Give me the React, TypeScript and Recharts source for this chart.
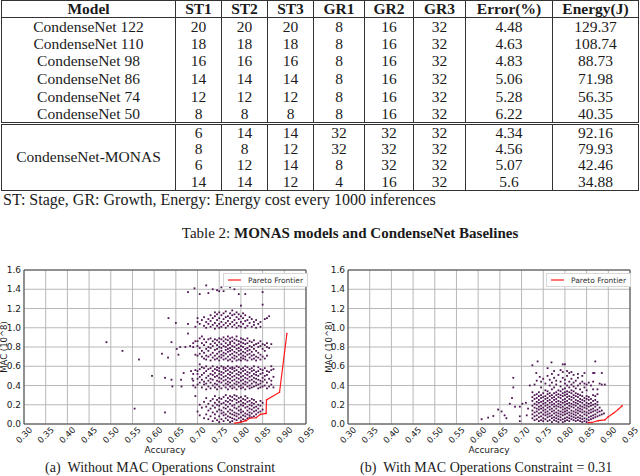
import React from 'react';
import { ScatterChart, Scatter, XAxis, YAxis, CartesianGrid, ReferenceArea, Legend, Label } from 'recharts';

// table 2
const headers = ['Model', 'ST1', 'ST2', 'ST3', 'GR1', 'GR2', 'GR3', 'Error(%)', 'Energy(J)'];
const baselineRows: (string | number)[][] = [
  ['CondenseNet 122', 20, 20, 20, 8, 16, 32, '4.48', '129.37'],
  ['CondenseNet 110', 18, 18, 18, 8, 16, 32, '4.63', '108.74'],
  ['CondenseNet 98', 16, 16, 16, 8, 16, 32, '4.83', '88.73'],
  ['CondenseNet 86', 14, 14, 14, 8, 16, 32, '5.06', '71.98'],
  ['CondenseNet 74', 12, 12, 12, 8, 16, 32, '5.28', '56.35'],
  ['CondenseNet 50', 8, 8, 8, 8, 16, 32, '6.22', '40.35'],
];
const monasRows: (string | number)[][] = [
  [6, 14, 14, 32, 32, 32, '4.34', '92.16'],
  [8, 8, 12, 32, 32, 32, '4.56', '79.93'],
  [6, 12, 14, 8, 32, 32, '5.07', '42.46'],
  [14, 14, 12, 4, 16, 32, '5.6', '34.88'],
];
const colWidths = [174, 46, 46, 46, 51, 49, 52, 87, 86];

// scatter axes
const accuracyTicks = [0.3, 0.35, 0.4, 0.45, 0.5, 0.55, 0.6, 0.65, 0.7, 0.75, 0.8, 0.85, 0.9, 0.95];
const macTicks = [0, 0.2, 0.4, 0.6, 0.8, 1.0, 1.2, 1.4, 1.6];

// (a) without constraint: [accuracy, MAC values at that accuracy]
const colsA: [number, number[]][] = [
  [0.69, [0.45, 0.4, 0.52, 0.84, 0.8]],
  [0.695, [0.38, 0.29, 0.56, 0.72, 0.86, 1.01]],
  [0.7, [0.13, 0.47, 0.52, 0.55, 0.41, 0.71, 0.81, 0.86, 1.06, 1.1]],
  [0.705, [0.09, 0.2, 0.43, 0.49, 0.57, 0.62, 0.73, 0.79, 0.89, 1.04, 1.35]],
  [0.71, [0.17, 0.38, 0.46, 0.51, 0.59, 0.7, 0.76, 0.84, 0.91, 1.08]],
  [0.715, [0.06, 0.23, 0.41, 0.44, 0.53, 0.58, 0.68, 0.74, 0.82, 0.88, 1.02, 1.11]],
  [0.72, [0.1, 0.18, 0.27, 0.36, 0.42, 0.48, 0.55, 0.6, 0.67, 0.71, 0.78, 0.85, 1.0, 1.06, 1.44]],
  [0.725, [0.05, 0.14, 0.21, 0.39, 0.45, 0.5, 0.57, 0.7, 0.76, 0.8, 0.88, 1.04, 1.09, 1.36]],
  [0.73, [0.08, 0.16, 0.24, 0.37, 0.43, 0.47, 0.52, 0.58, 0.66, 0.72, 0.79, 0.83, 0.89, 1.01, 1.07, 1.13]],
  [0.735, [0.03, 0.12, 0.19, 0.26, 0.4, 0.46, 0.51, 0.55, 0.6, 0.69, 0.74, 0.81, 0.86, 1.03, 1.1, 1.4]],
  [0.74, [0.06, 0.1, 0.17, 0.22, 0.29, 0.38, 0.42, 0.49, 0.53, 0.57, 0.67, 0.71, 0.77, 0.84, 0.88, 0.99, 1.05, 1.12, 1.16]],
  [0.745, [0.04, 0.13, 0.2, 0.25, 0.36, 0.41, 0.45, 0.5, 0.56, 0.59, 0.68, 0.73, 0.78, 0.82, 0.87, 1.02, 1.08, 1.14, 1.39]],
  [0.75, [0.02, 0.08, 0.15, 0.19, 0.23, 0.27, 0.39, 0.44, 0.48, 0.52, 0.55, 0.58, 0.66, 0.7, 0.75, 0.8, 0.85, 0.89, 1.0, 1.04, 1.1, 1.16, 1.38]],
  [0.755, [0.05, 0.11, 0.14, 0.21, 0.26, 0.37, 0.43, 0.47, 0.51, 0.54, 0.6, 0.69, 0.72, 0.76, 0.79, 0.83, 0.88, 1.01, 1.06, 1.13, 1.42]],
  [0.76, [0.03, 0.09, 0.12, 0.17, 0.22, 0.28, 0.4, 0.45, 0.49, 0.53, 0.57, 0.59, 0.67, 0.71, 0.74, 0.81, 0.86, 0.9, 1.03, 1.09, 1.15, 1.38]],
  [0.765, [0.06, 0.1, 0.16, 0.2, 0.24, 0.3, 0.38, 0.42, 0.46, 0.5, 0.55, 0.58, 0.68, 0.73, 0.77, 0.8, 0.84, 0.88, 1.0, 1.05, 1.11, 1.17]],
  [0.77, [0.04, 0.08, 0.13, 0.18, 0.23, 0.27, 0.36, 0.41, 0.44, 0.48, 0.52, 0.56, 0.6, 0.66, 0.7, 0.75, 0.78, 0.82, 0.87, 0.91, 1.02, 1.07, 1.12]],
  [0.775, [0.02, 0.07, 0.11, 0.15, 0.21, 0.25, 0.29, 0.39, 0.43, 0.47, 0.51, 0.54, 0.58, 0.67, 0.72, 0.76, 0.79, 0.83, 0.85, 0.89, 1.04, 1.1, 1.15, 1.42]],
  [0.78, [0.03, 0.06, 0.1, 0.14, 0.19, 0.24, 0.28, 0.37, 0.4, 0.45, 0.49, 0.53, 0.57, 0.59, 0.65, 0.69, 0.73, 0.77, 0.81, 0.86, 0.9, 1.01, 1.06, 1.13, 1.18]],
  [0.785, [0.05, 0.09, 0.12, 0.17, 0.2, 0.26, 0.3, 0.38, 0.42, 0.46, 0.5, 0.55, 0.58, 0.68, 0.71, 0.75, 0.8, 0.84, 0.88, 1.03, 1.08, 1.14, 1.4]],
  [0.79, [0.04, 0.08, 0.11, 0.16, 0.22, 0.25, 0.29, 0.36, 0.41, 0.44, 0.48, 0.52, 0.56, 0.6, 0.66, 0.7, 0.74, 0.78, 0.82, 0.87, 0.91, 1.0, 1.05, 1.11, 1.16]],
  [0.795, [0.06, 0.1, 0.14, 0.18, 0.23, 0.27, 0.39, 0.43, 0.47, 0.51, 0.54, 0.59, 0.67, 0.72, 0.76, 0.79, 0.83, 0.86, 1.02, 1.09, 1.14, 1.35]],
  [0.8, [0.03, 0.07, 0.12, 0.15, 0.2, 0.24, 0.28, 0.37, 0.4, 0.45, 0.49, 0.53, 0.57, 0.66, 0.69, 0.73, 0.77, 0.81, 0.85, 0.89, 1.01, 1.06, 1.12, 1.23]],
  [0.805, [0.05, 0.09, 0.13, 0.19, 0.22, 0.26, 0.38, 0.42, 0.46, 0.5, 0.55, 0.58, 0.68, 0.71, 0.75, 0.8, 0.84, 0.88, 1.04, 1.1, 1.15]],
  [0.81, [0.04, 0.08, 0.11, 0.17, 0.21, 0.25, 0.29, 0.36, 0.41, 0.44, 0.48, 0.52, 0.56, 0.6, 0.67, 0.7, 0.74, 0.78, 0.83, 0.87, 1.0, 1.07, 1.13, 1.35]],
  [0.815, [0.06, 0.1, 0.14, 0.18, 0.23, 0.27, 0.39, 0.43, 0.47, 0.51, 0.54, 0.59, 0.66, 0.72, 0.76, 0.79, 0.84, 0.89, 1.02, 1.08]],
  [0.82, [0.07, 0.09, 0.12, 0.16, 0.2, 0.24, 0.37, 0.4, 0.45, 0.49, 0.53, 0.57, 0.69, 0.73, 0.77, 0.81, 0.86, 1.05, 1.11]],
  [0.825, [0.07, 0.11, 0.15, 0.19, 0.22, 0.26, 0.38, 0.42, 0.46, 0.5, 0.55, 0.58, 0.67, 0.71, 0.75, 0.8, 0.85, 1.01, 1.09]],
  [0.83, [0.08, 0.13, 0.17, 0.21, 0.25, 0.39, 0.44, 0.48, 0.52, 0.56, 0.6, 0.68, 0.72, 0.78, 0.82, 0.87, 1.03, 1.06]],
  [0.835, [0.1, 0.14, 0.18, 0.23, 0.4, 0.43, 0.47, 0.51, 0.54, 0.66, 0.7, 0.76, 0.83, 1.0, 1.08]],
  [0.84, [0.12, 0.16, 0.2, 0.37, 0.41, 0.46, 0.5, 0.55, 0.59, 0.69, 0.74, 0.8, 0.84, 1.04]],
  [0.845, [0.13, 0.19, 0.24, 0.38, 0.42, 0.45, 0.52, 0.57, 0.67, 0.72, 0.81, 0.86, 1.01, 1.06]],
  [0.85, [0.15, 0.22, 0.39, 0.44, 0.48, 0.53, 0.56, 0.7, 0.78, 0.83, 1.24, 1.37]],
  [0.855, [0.4, 0.46, 0.5, 0.58, 0.68, 0.76, 0.82, 1.09]],
  [0.86, [0.37, 0.43, 0.51, 0.55, 0.71, 0.8, 0.84, 1.1]],
  [0.865, [0.39, 0.47, 0.54, 0.79, 1.12]],
  [0.87, [0.41, 0.45, 0.56, 0.6, 0.83]],
  [0.875, [0.38, 0.49, 0.57]],
];
const strayA: [number, number][] = [
  [0.49, 0.85], [0.527, 0.76], [0.565, 0.67], [0.595, 0.5], [0.555, 0.16], [0.625, 0.12],
  [0.618, 0.73], [0.625, 0.48], [0.632, 0.69], [0.64, 0.85], [0.64, 0.46], [0.642, 0.39],
  [0.633, 1.1], [0.65, 1.05], [0.652, 0.78], [0.66, 0.8], [0.656, 0.72], [0.662, 0.46],
  [0.663, 0.39], [0.668, 0.53], [0.672, 0.8], [0.678, 0.94], [0.678, 1.04], [0.683, 0.81],
  [0.678, 1.37], [0.693, 1.41], [0.685, 0.55], [0.688, 0.47],
];
const paretoA: [number, number][] = [
  [0.786, 0.01], [0.8, 0.02], [0.812, 0.035], [0.82, 0.06], [0.835, 0.065], [0.845, 0.1],
  [0.858, 0.11], [0.859, 0.25], [0.889, 0.33], [0.906, 0.94],
];

// (b) with MAC constraint = 0.31
const colsB: [number, number[]][] = [
  [0.725, [0.06, 0.1, 0.14, 0.19, 0.24, 0.28, 0.33]],
  [0.73, [0.04, 0.08, 0.12, 0.17, 0.21, 0.26, 0.3, 0.41]],
  [0.735, [0.05, 0.09, 0.13, 0.16, 0.2, 0.23, 0.27, 0.31, 0.45]],
  [0.74, [0.03, 0.07, 0.11, 0.15, 0.18, 0.22, 0.25, 0.29, 0.33]],
  [0.745, [0.04, 0.08, 0.12, 0.16, 0.19, 0.23, 0.27, 0.3, 0.38, 0.44]],
  [0.75, [0.03, 0.06, 0.1, 0.14, 0.17, 0.21, 0.24, 0.28, 0.32, 0.47]],
  [0.755, [0.05, 0.09, 0.12, 0.15, 0.19, 0.22, 0.26, 0.29, 0.35, 0.42]],
  [0.76, [0.03, 0.07, 0.1, 0.13, 0.17, 0.2, 0.24, 0.27, 0.31, 0.34, 0.5, 0.58]],
  [0.765, [0.04, 0.08, 0.11, 0.15, 0.18, 0.22, 0.25, 0.29, 0.32, 0.4, 0.46]],
  [0.77, [0.02, 0.06, 0.09, 0.13, 0.16, 0.2, 0.23, 0.27, 0.3, 0.36, 0.43, 0.52]],
  [0.775, [0.04, 0.07, 0.11, 0.14, 0.18, 0.21, 0.25, 0.28, 0.32, 0.38, 0.48, 0.55]],
  [0.78, [0.03, 0.06, 0.09, 0.12, 0.16, 0.19, 0.23, 0.26, 0.3, 0.33, 0.41, 0.45]],
  [0.785, [0.02, 0.05, 0.08, 0.11, 0.14, 0.18, 0.21, 0.24, 0.28, 0.31, 0.35, 0.51]],
  [0.79, [0.04, 0.07, 0.1, 0.13, 0.17, 0.2, 0.23, 0.27, 0.3, 0.34, 0.39, 0.44, 0.56]],
  [0.795, [0.02, 0.05, 0.09, 0.12, 0.15, 0.18, 0.22, 0.25, 0.29, 0.32, 0.36, 0.48, 0.54, 0.62]],
  [0.8, [0.03, 0.06, 0.1, 0.13, 0.16, 0.2, 0.23, 0.26, 0.3, 0.33, 0.37, 0.42, 0.46]],
  [0.805, [0.04, 0.07, 0.11, 0.14, 0.17, 0.21, 0.24, 0.28, 0.31, 0.34, 0.4, 0.5, 0.55]],
  [0.81, [0.03, 0.06, 0.09, 0.12, 0.16, 0.19, 0.22, 0.26, 0.29, 0.33, 0.38, 0.44, 0.53]],
  [0.815, [0.05, 0.08, 0.11, 0.14, 0.18, 0.21, 0.25, 0.28, 0.32, 0.35, 0.41, 0.47, 0.54]],
  [0.82, [0.04, 0.07, 0.1, 0.13, 0.17, 0.2, 0.23, 0.27, 0.3, 0.34, 0.39, 0.43, 0.51]],
  [0.825, [0.03, 0.06, 0.09, 0.12, 0.15, 0.19, 0.22, 0.25, 0.29, 0.32, 0.37, 0.45]],
  [0.83, [0.04, 0.07, 0.11, 0.14, 0.17, 0.21, 0.24, 0.28, 0.31, 0.4, 0.48, 0.52]],
  [0.835, [0.03, 0.06, 0.09, 0.13, 0.16, 0.19, 0.23, 0.26, 0.3, 0.36, 0.42]],
  [0.84, [0.02, 0.05, 0.08, 0.12, 0.15, 0.18, 0.22, 0.25, 0.29, 0.33, 0.44, 0.5]],
  [0.845, [0.03, 0.06, 0.1, 0.13, 0.17, 0.2, 0.24, 0.27, 0.38, 0.42, 0.53]],
  [0.85, [0.02, 0.05, 0.09, 0.12, 0.16, 0.19, 0.22, 0.26, 0.29, 0.35, 0.41]],
  [0.855, [0.04, 0.07, 0.11, 0.14, 0.18, 0.21, 0.25, 0.28, 0.43]],
  [0.86, [0.05, 0.08, 0.12, 0.15, 0.19, 0.22, 0.26, 0.4]],
  [0.865, [0.06, 0.09, 0.13, 0.16, 0.2, 0.24, 0.3, 0.36, 0.44, 0.53]],
  [0.87, [0.07, 0.1, 0.14, 0.18, 0.21, 0.25, 0.29, 0.65]],
  [0.875, [0.08, 0.12, 0.15, 0.2, 0.23, 0.31, 0.36]],
  [0.88, [0.09, 0.13, 0.17, 0.42]],
  [0.885, [0.1, 0.14, 0.41]],
  [0.89, [0.11]],
];
const strayB: [number, number][] = [
  [0.608, 0.05], [0.623, 0.066], [0.635, 0.083], [0.646, 0.15], [0.654, 0.13], [0.661, 0.09],
  [0.665, 0.06], [0.673, 0.21], [0.678, 0.27], [0.681, 0.38], [0.681, 0.48], [0.685, 0.18],
  [0.696, 0.18], [0.696, 0.08], [0.696, 0.03], [0.702, 0.21], [0.712, 0.09], [0.719, 0.4],
  [0.725, 0.61], [0.737, 0.65], [0.734, 0.53], [0.742, 0.49], [0.769, 0.64], [0.8, 0.62],
  [0.868, 0.53], [0.885, 0.53], [0.892, 0.41], [0.71, 0.22], [0.715, 0.16],
];
const paretoB: [number, number][] = [
  [0.854, 0.014], [0.862, 0.016], [0.877, 0.035], [0.892, 0.042], [0.9, 0.076],
  [0.912, 0.111], [0.923, 0.152], [0.932, 0.19],
];

const toPoints = (cols: [number, number[]][], stray: [number, number][]) => [
  ...cols.flatMap(([acc, macs]) => macs.map((mac) => ({ acc, mac }))),
  ...stray.map(([acc, mac]) => ({ acc, mac })),
];
const toLine = (pts: [number, number][]) => pts.map(([acc, mac]) => ({ acc, mac }));

const serif = '"Liberation Serif", "Times New Roman", serif';
const ink = '#1a1a1a';
const rule = '1px solid #333';

const PointMark = (p: any) => <rect x={p.cx - 0.9} y={p.cy - 0.9} width={1.8} height={1.8} fill="#4e1553" />;
const ParetoMark = (p: any) => <circle cx={p.cx} cy={p.cy} r={0.8} fill="#ff1a1a" />;

const AccTick = ({ x, y, payload }: any) => (
  <text
    x={x}
    y={y + 9}
    transform={`rotate(-45 ${x} ${y + 9})`}
    textAnchor="middle"
    dominantBaseline="central"
    fontSize={8.5}
    fill={ink}
  >
    {payload.value.toFixed(2)}
  </text>
);

const ParetoLegend = () => (
  <div
    style={{
      display: 'flex',
      alignItems: 'center',
      height: 12,
      padding: '0 4px',
      border: '1px solid #d8d8d8',
      background: '#fff',
      fontSize: 7.5,
      color: '#333',
      whiteSpace: 'nowrap',
    }}
  >
    <svg width={13} height={4}>
      <line x1={0} y1={2} x2={13} y2={2} stroke="#ff1a1a" strokeWidth={1.2} />
    </svg>
    <span style={{ marginLeft: 7 }}>Pareto Frontier</span>
  </div>
);

const MacChart = ({ points, pareto, yAxisWidth, rightMargin, titleX, legendLeft }: any) => (
  <ScatterChart width={320} height={226} margin={{ top: 20, right: rightMargin, bottom: 0, left: 0 }}>
    <CartesianGrid stroke="#b8b8b8" strokeWidth={1} />
    <XAxis
      type="number"
      dataKey="acc"
      domain={[0.3, 0.95]}
      ticks={accuracyTicks}
      interval={0}
      allowDataOverflow
      axisLine={false}
      tickLine={false}
      tickSize={0}
      tick={<AccTick />}
      height={52}
      label={
        <Label
          content={({ viewBox }: any) => (
            <text x={viewBox.x + viewBox.width / 2} y={viewBox.y + 29} textAnchor="middle" fontSize={9} fill={ink}>
              Accuracy
            </text>
          )}
        />
      }
    />
    <YAxis
      type="number"
      dataKey="mac"
      domain={[0, 1.6]}
      ticks={macTicks}
      interval={0}
      allowDataOverflow
      axisLine={false}
      tickLine={false}
      tickSize={0}
      tickMargin={3}
      width={yAxisWidth}
      tickFormatter={(v: number) => v.toFixed(1)}
      tick={{ fontSize: 9, fill: ink }}
      label={
        <Label
          content={({ viewBox }: any) => {
            const cy = viewBox.y + viewBox.height / 2;
            return (
              <text
                x={titleX}
                y={cy}
                transform={`rotate(-90 ${titleX} ${cy})`}
                textAnchor="middle"
                dominantBaseline="central"
                fontSize={8.5}
                fill={ink}
              >
                MAC (10^8)
              </text>
            );
          }}
        />
      }
    />
    <ReferenceArea x1={0.3} x2={0.95} y1={0} y2={1.6} fill="none" stroke="#444" strokeWidth={1} />
    <Scatter data={points} shape={PointMark} isAnimationActive={false} />
    <Scatter
      data={pareto}
      shape={ParetoMark}
      line={{ stroke: '#ff1a1a', strokeWidth: 1.2 }}
      lineType="joint"
      isAnimationActive={false}
    />
    <Legend
      layout="horizontal"
      verticalAlign="middle"
      align="center"
      content={<ParetoLegend />}
      wrapperStyle={{ top: 23, left: legendLeft, width: 'auto' }}
    />
  </ScatterChart>
);

const td = (extra?: React.CSSProperties): React.CSSProperties => ({
  borderLeft: rule,
  borderRight: rule,
  padding: 0,
  textAlign: 'center',
  ...extra,
});

export default function App() {
  return (
    <div style={{ position: 'absolute', left: 0, top: 0, width: 640, height: 476, background: '#fff', color: ink, overflow: 'hidden' }}>
      <table
        style={{
          position: 'absolute',
          left: 1,
          top: 0,
          width: 637,
          borderCollapse: 'collapse',
          tableLayout: 'fixed',
          border: rule,
          fontFamily: serif,
          fontSize: 15.5,
          lineHeight: '16px',
        }}
      >
        <colgroup>
          {colWidths.map((w, i) => (
            <col key={i} style={{ width: w }} />
          ))}
        </colgroup>
        <tbody>
          <tr style={{ height: 16 }}>
            {headers.map((h) => (
              <th key={h} style={td({ borderBottom: rule, fontWeight: 'bold' })}>
                {h}
              </th>
            ))}
          </tr>
          {baselineRows.map((r, i) => (
            <tr key={i} style={{ height: 17.6 }}>
              {r.map((c, j) => (
                <td key={j} style={td()}>
                  {c}
                </td>
              ))}
            </tr>
          ))}
          {monasRows.map((r, i) => (
            <tr key={'m' + i} style={{ height: 16.6 }}>
              {i === 0 && (
                <td rowSpan={4} style={td({ borderTop: '3px double #333' })}>
                  CondenseNet-MONAS
                </td>
              )}
              {r.map((c, j) => (
                <td key={j} style={td(i === 0 ? { borderTop: '3px double #333' } : undefined)}>
                  {c}
                </td>
              ))}
            </tr>
          ))}
        </tbody>
      </table>

      <div style={{ position: 'absolute', left: 3, top: 191, fontFamily: serif, fontSize: 16, lineHeight: '18px', whiteSpace: 'nowrap' }}>
        ST: Stage, GR: Growth, Energy: Energy cost every 1000 inferences
      </div>
      <div style={{ position: 'absolute', left: 0, width: 700, top: 224, textAlign: 'center', fontFamily: serif, fontSize: 15, lineHeight: '18px', whiteSpace: 'nowrap' }}>
        Table 2: <b>MONAS models and CondenseNet Baselines</b>
      </div>

      <div style={{ position: 'absolute', left: 0, top: 250, fontFamily: '"DejaVu Sans", sans-serif' }}>
        <MacChart points={toPoints(colsA, strayA)} pareto={toLine(paretoA)} yAxisWidth={24} rightMargin={14} titleX={4} legendLeft={223} />
      </div>
      <div style={{ position: 'absolute', left: 320, top: 250, fontFamily: '"DejaVu Sans", sans-serif' }}>
        <MacChart points={toPoints(colsB, strayB)} pareto={toLine(paretoB)} yAxisWidth={28} rightMargin={10} titleX={9} legendLeft={226} />
      </div>

      <div style={{ position: 'absolute', left: 45, top: 459, width: 235, fontFamily: serif, fontSize: 14, lineHeight: '18px', whiteSpace: 'nowrap' }}>
        (a)&nbsp;&nbsp;Without MAC Operations Constraint
      </div>
      <div style={{ position: 'absolute', left: 360, top: 459, width: 260, fontFamily: serif, fontSize: 14, lineHeight: '18px', whiteSpace: 'nowrap' }}>
        (b)&nbsp;&nbsp;With MAC Operations Constraint = 0.31
      </div>
    </div>
  );
}
